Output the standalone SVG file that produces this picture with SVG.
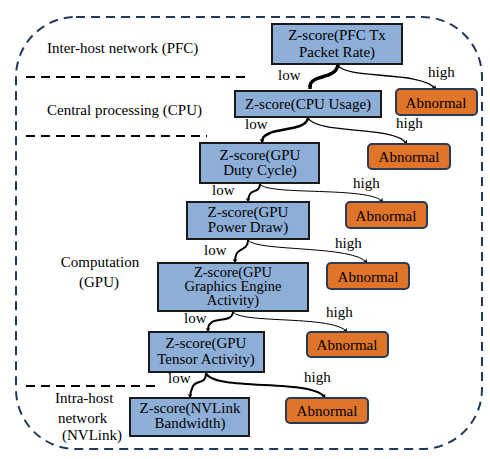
<svg xmlns="http://www.w3.org/2000/svg" width="490" height="459" viewBox="0 0 490 459" font-family="'Liberation Serif', 'Times New Roman', serif">
<defs>
<style>
text{font-family:'Liberation Serif','Times New Roman',serif;font-size:15px;fill:#000}
.m{text-anchor:middle}
.t{font-size:14.5px}
.blue{fill:#8daed6;stroke:#1a1a1a;stroke-width:2}
.ab{fill:#e07428;stroke:#2b3b57;stroke-width:2}
.sep{stroke:#000;stroke-width:2;stroke-dasharray:9,6;fill:none}
.e{fill:none;stroke:#000;marker-end:url(#arr)}
</style>
<marker id="arr" viewBox="0 0 10 10" refX="9" refY="5" markerWidth="4.5" markerHeight="4.5" markerUnits="userSpaceOnUse" orient="auto">
<path d="M0,0 L10,5 L0,10 L3,5 Z" fill="#000"/>
</marker>
</defs>
<rect x="16" y="17" width="466" height="432" rx="60" ry="60" fill="none" stroke="#23395b" stroke-width="2" stroke-dasharray="9,6"/>
<g id="separators">
<line class="sep" x1="26" y1="77" x2="248" y2="77"/>
<line class="sep" x1="26" y1="136" x2="207" y2="136"/>
<line class="sep" x1="26" y1="386" x2="157" y2="386"/>
</g>
<g id="layer-labels">
<text x="47" y="53">Inter-host network (PFC)</text>
<text x="47" y="115">Central processing (CPU)</text>
<text class="m" x="100" y="267">Computation</text>
<text class="m" x="99" y="287">(GPU)</text>
<text x="55" y="403">Intra-host</text>
<text x="58" y="423">network</text>
<text x="62" y="440">(NVLink)</text>
</g>
<g id="connectors">
<path class="e" stroke-width="3.5" d="M338,65 C336,76 322,76 316,79 C310,82 310,84 310,89"/>
<path class="e" stroke-width="1.3" d="M338,65 C346,80 420,70 436,89"/>
<path class="e" stroke-width="2.5" d="M308,118 C306,130 280,128 270,133 C263,136 262,138 262,143"/>
<path class="e" stroke-width="1.3" d="M308,118 C318,135 395,125 407,144"/>
<path class="e" stroke-width="2" d="M260,184 C260,192 252,190 250,194 C248,197 248,198 248,202"/>
<path class="e" stroke-width="1" d="M260,184 C268,196 370,186 383,202"/>
<path class="e" stroke-width="2" d="M248,240 C248,250 240,248 237,253 C235,256 235,258 235,263"/>
<path class="e" stroke-width="1" d="M248,240 C256,252 355,245 367,263"/>
<path class="e" stroke-width="2" d="M233,312 C232,322 218,318 212,322 C208,325 208,327 208,332"/>
<path class="e" stroke-width="1" d="M233,312 C242,324 335,315 347,332"/>
<path class="e" stroke-width="2" d="M206,373 C206,385 196,380 193,386 C191,390 190,392 190,398"/>
<path class="e" stroke-width="2" d="M206,373 C214,392 315,378 325,398"/>
</g>
<g id="edge-labels">
<text x="278" y="80">low</text>
<text x="428" y="77">high</text>
<text x="245" y="129">low</text>
<text x="396" y="128">high</text>
<text x="212" y="195">low</text>
<text x="353" y="188">high</text>
<text x="204" y="255">low</text>
<text x="335" y="248">high</text>
<text x="184" y="323">low</text>
<text x="326" y="317">high</text>
<text x="168" y="383">low</text>
<text x="304" y="382">high</text>
</g>
<g id="n-pfc">
<rect class="blue" x="272" y="24" width="130" height="40"/>
<text class="m" x="337" y="40">Z-score(PFC Tx</text>
<text class="m" x="337" y="57">Packet Rate)</text>
</g>
<g id="n-cpu">
<rect class="blue" x="235" y="91" width="146" height="26"/>
<text class="m" x="308" y="109">Z-score(CPU Usage)</text>
</g>
<g id="n-duty">
<rect class="blue" x="200" y="143" width="119" height="40"/>
<text class="m" x="260" y="160">Z-score(GPU</text>
<text class="m" x="260" y="175">Duty Cycle)</text>
</g>
<g id="n-power">
<rect class="blue" x="187" y="202" width="122" height="37"/>
<text class="m" x="248" y="217">Z-score(GPU</text>
<text class="m" x="248" y="232">Power Draw)</text>
</g>
<g id="n-graphics">
<rect class="blue" x="158" y="263" width="150" height="48"/>
<text class="m t" x="233" y="277">Z-score(GPU</text>
<text class="m t" x="233" y="291">Graphics Engine</text>
<text class="m t" x="233" y="305">Activity)</text>
</g>
<g id="n-tensor">
<rect class="blue" x="149" y="332" width="115" height="40"/>
<text class="m" x="206" y="348">Z-score(GPU</text>
<text class="m" x="206" y="364">Tensor Activity)</text>
</g>
<g id="n-nvlink">
<rect class="blue" x="130" y="398" width="119" height="38"/>
<text class="m" x="190" y="413">Z-score(NVLink</text>
<text class="m" x="190" y="428">Bandwidth)</text>
</g>
<g id="a1"><rect class="ab" x="396" y="89" width="81" height="26" rx="4"/><text class="m" x="436" y="108">Abnormal</text></g>
<g id="a2"><rect class="ab" x="368" y="144" width="82" height="25" rx="4"/><text class="m" x="409" y="162">Abnormal</text></g>
<g id="a3"><rect class="ab" x="346" y="202" width="81" height="26" rx="4"/><text class="m" x="386" y="221">Abnormal</text></g>
<g id="a4"><rect class="ab" x="327" y="263" width="82" height="26" rx="4"/><text class="m" x="368" y="282">Abnormal</text></g>
<g id="a5"><rect class="ab" x="307" y="332" width="81" height="25" rx="4"/><text class="m" x="347" y="350">Abnormal</text></g>
<g id="a6"><rect class="ab" x="286" y="398" width="82" height="25" rx="4"/><text class="m" x="327" y="416">Abnormal</text></g>
</svg>
